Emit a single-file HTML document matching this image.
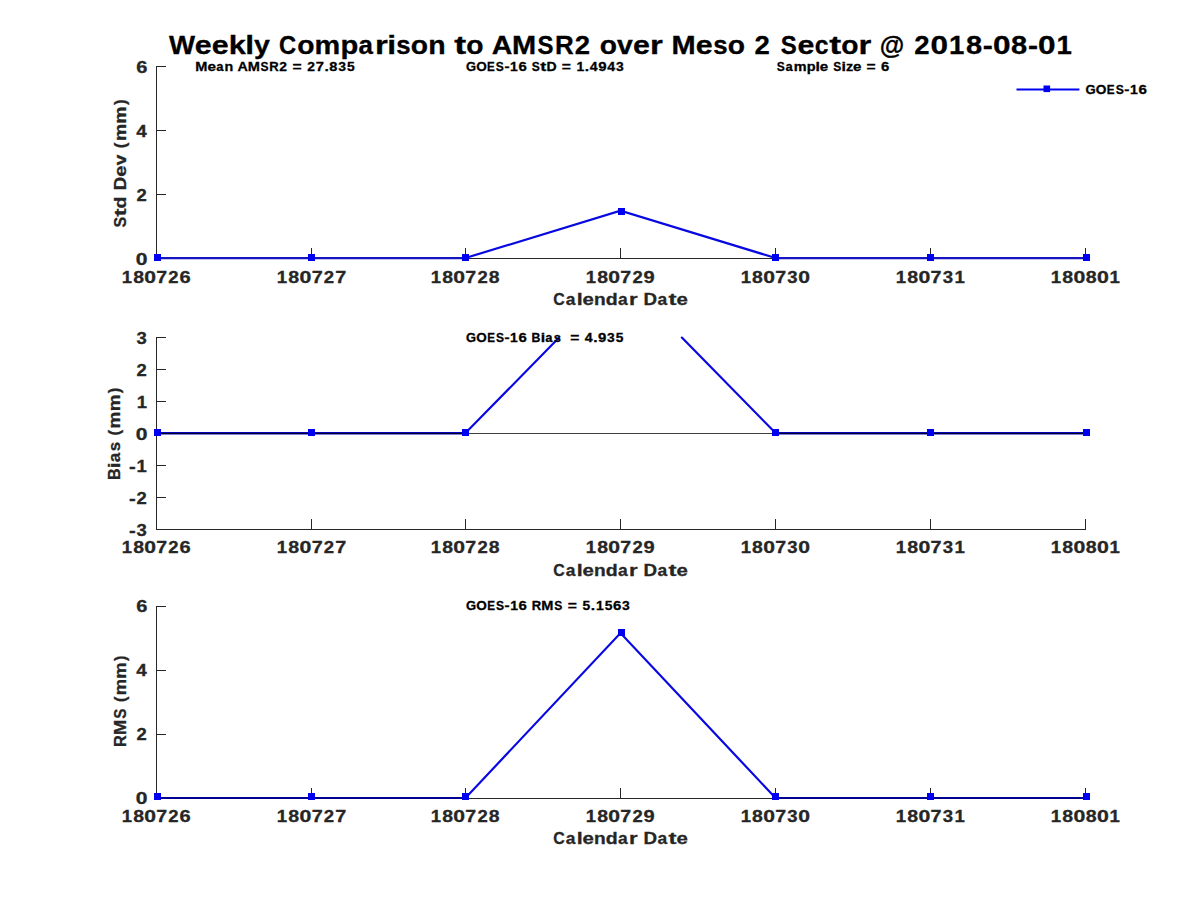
<!DOCTYPE html>
<html><head><meta charset="utf-8"><style>
html,body{margin:0;padding:0;background:#fff;width:1200px;height:900px;overflow:hidden}
svg{display:block}
text{font-family:"Liberation Sans", sans-serif;font-weight:bold}
</style></head><body>
<svg width="1200" height="900" viewBox="0 0 1200 900">
<rect width="1200" height="900" fill="#fff"/>
<path d="M156.5,66V259M156,258.5H1086M156,258.5H166M156,194.5H166M156,130.5H166M156,66.5H166M156.5,258V248M311.5,258V248M465.5,258V248M620.5,258V248M775.5,258V248M930.5,258V248M1085.5,258V248" stroke="#262626" stroke-width="1" fill="none" shape-rendering="crispEdges"/>
<polyline points="156.50,258.00 311.50,258.00 465.50,258.00 620.50,210.70 775.50,258.00 930.50,258.00 1085.50,258.00" stroke="#0808e0" stroke-width="2.2" fill="none"/>
<path d="M156.5,258.2H465.5M775.5,258.2H1085.5" stroke="#1414c0" stroke-width="2.2" fill="none"/>
<rect x="154" y="254" width="7" height="7" fill="#0000f0"/>
<rect x="308" y="254" width="7" height="7" fill="#0000f0"/>
<rect x="462" y="254" width="7" height="7" fill="#0000f0"/>
<rect x="618" y="208" width="7" height="7" fill="#0000f0"/>
<rect x="772" y="254" width="7" height="7" fill="#0000f0"/>
<rect x="927" y="254" width="7" height="7" fill="#0000f0"/>
<rect x="1083" y="254" width="7" height="7" fill="#0000f0"/>
<path d="M156.5,337V530M156,529.5H1086M156,529.5H166M156,497.5H166M156,465.5H166M156,433.5H166M156,401.5H166M156,369.5H166M156,337.5H166M156.5,529V519M311.5,529V519M465.5,529V519M620.5,529V519M775.5,529V519M930.5,529V519M1085.5,529V519" stroke="#262626" stroke-width="1" fill="none" shape-rendering="crispEdges"/>
<polyline points="156.5,433.0 465.5,433.0 559.14,337.6" stroke="#0808e0" stroke-width="2.2" fill="none" stroke-linecap="round"/>
<polyline points="681.86,337.6 775.5,433.0 1085.5,433.0" stroke="#0808e0" stroke-width="2.2" fill="none" stroke-linecap="round"/>
<path d="M156.5,433.3H465.5M775.5,433.3H1085.5" stroke="#0000b0" stroke-width="2.2" fill="none"/>
<path d="M156,433.5H1086" stroke="#000" stroke-width="1" opacity="0.75" shape-rendering="crispEdges"/>
<rect x="154" y="429" width="7" height="7" fill="#0000f0"/>
<rect x="308" y="429" width="7" height="7" fill="#0000f0"/>
<rect x="462" y="429" width="7" height="7" fill="#0000f0"/>
<rect x="772" y="429" width="7" height="7" fill="#0000f0"/>
<rect x="927" y="429" width="7" height="7" fill="#0000f0"/>
<rect x="1083" y="429" width="7" height="7" fill="#0000f0"/>
<path d="M156.5,606V799M156,798.5H1086M156,798.5H166M156,734.5H166M156,670.5H166M156,606.5H166M156.5,798V788M311.5,798V788M465.5,798V788M620.5,798V788M775.5,798V788M930.5,798V788M1085.5,798V788" stroke="#262626" stroke-width="1" fill="none" shape-rendering="crispEdges"/>
<polyline points="156.50,798.00 311.50,798.00 465.50,798.00 620.50,633.00 775.50,798.00 930.50,798.00 1085.50,798.00" stroke="#0808e0" stroke-width="2.2" fill="none"/>
<path d="M156.5,798.0H465.5M775.5,798.0H1085.5" stroke="#000090" stroke-width="2.2" fill="none"/>
<rect x="154" y="793" width="7" height="7" fill="#0000f0"/>
<rect x="308" y="793" width="7" height="7" fill="#0000f0"/>
<rect x="462" y="793" width="7" height="7" fill="#0000f0"/>
<rect x="618" y="629" width="7" height="7" fill="#0000f0"/>
<rect x="772" y="793" width="7" height="7" fill="#0000f0"/>
<rect x="927" y="793" width="7" height="7" fill="#0000f0"/>
<rect x="1083" y="793" width="7" height="7" fill="#0000f0"/>
<path d="M1016.5,89.6H1079.4" stroke="#0000f0" stroke-width="2"/><rect x="1043.5" y="85.5" width="6.6" height="6.6" fill="#0000f0"/>
<text transform="translate(168.90,53.80) scale(1.078,1)" font-size="25.64" fill="#000" stroke="#000" stroke-width="0.3">W</text>
<text transform="translate(194.72,53.80) scale(1.185,1)" font-size="25.64" fill="#000" stroke="#000" stroke-width="0.3">e</text>
<text transform="translate(211.66,53.80) scale(1.185,1)" font-size="25.64" fill="#000" stroke="#000" stroke-width="0.3">e</text>
<text transform="translate(228.65,53.80) scale(1.200,1)" font-size="25.64" fill="#000" stroke="#000" stroke-width="0.3">k</text>
<text transform="translate(245.19,53.80) scale(1.242,1)" font-size="25.64" fill="#000" stroke="#000" stroke-width="0.3">l</text>
<text transform="translate(253.95,53.80) scale(1.116,1)" font-size="25.64" fill="#000" stroke="#000" stroke-width="0.3">y</text>
<text transform="translate(279.11,53.80) scale(0.925,1)" font-size="25.64" fill="#000" stroke="#000" stroke-width="0.3">C</text>
<text transform="translate(297.14,53.80) scale(1.100,1)" font-size="25.64" fill="#000" stroke="#000" stroke-width="0.3">o</text>
<text transform="translate(314.49,53.80) scale(1.127,1)" font-size="25.64" fill="#000" stroke="#000" stroke-width="0.3">m</text>
<text transform="translate(340.53,53.80) scale(1.135,1)" font-size="25.64" fill="#000" stroke="#000" stroke-width="0.3">p</text>
<text transform="translate(358.54,53.80) scale(1.011,1)" font-size="25.64" fill="#000" stroke="#000" stroke-width="0.3">a</text>
<text transform="translate(375.00,53.80) scale(1.285,1)" font-size="25.64" fill="#000" stroke="#000" stroke-width="0.3">r</text>
<text transform="translate(387.27,53.80) scale(1.242,1)" font-size="25.64" fill="#000" stroke="#000" stroke-width="0.3">i</text>
<text transform="translate(396.34,53.80) scale(1.008,1)" font-size="25.64" fill="#000" stroke="#000" stroke-width="0.3">s</text>
<text transform="translate(410.79,53.80) scale(1.100,1)" font-size="25.64" fill="#000" stroke="#000" stroke-width="0.3">o</text>
<text transform="translate(428.20,53.80) scale(1.110,1)" font-size="25.64" fill="#000" stroke="#000" stroke-width="0.3">n</text>
<text transform="translate(454.35,53.80) scale(1.396,1)" font-size="25.64" fill="#000" stroke="#000" stroke-width="0.3">t</text>
<text transform="translate(466.36,53.80) scale(1.100,1)" font-size="25.64" fill="#000" stroke="#000" stroke-width="0.3">o</text>
<text transform="translate(491.64,53.80) scale(1.110,1)" font-size="25.64" fill="#000" stroke="#000" stroke-width="0.3">A</text>
<text transform="translate(511.91,53.80) scale(1.131,1)" font-size="25.64" fill="#000" stroke="#000" stroke-width="0.3">M</text>
<text transform="translate(537.52,53.80) scale(0.936,1)" font-size="25.64" fill="#000" stroke="#000" stroke-width="0.3">S</text>
<text transform="translate(554.95,53.80) scale(1.011,1)" font-size="25.64" fill="#000" stroke="#000" stroke-width="0.3">R</text>
<text transform="translate(574.65,53.80) scale(1.073,1)" font-size="25.64" fill="#000" stroke="#000" stroke-width="0.3">2</text>
<text transform="translate(599.68,53.80) scale(1.100,1)" font-size="25.64" fill="#000" stroke="#000" stroke-width="0.3">o</text>
<text transform="translate(617.12,53.80) scale(1.107,1)" font-size="25.64" fill="#000" stroke="#000" stroke-width="0.3">v</text>
<text transform="translate(633.02,53.80) scale(1.185,1)" font-size="25.64" fill="#000" stroke="#000" stroke-width="0.3">e</text>
<text transform="translate(650.01,53.80) scale(1.285,1)" font-size="25.64" fill="#000" stroke="#000" stroke-width="0.3">r</text>
<text transform="translate(671.44,53.80) scale(1.131,1)" font-size="25.64" fill="#000" stroke="#000" stroke-width="0.3">M</text>
<text transform="translate(695.82,53.80) scale(1.185,1)" font-size="25.64" fill="#000" stroke="#000" stroke-width="0.3">e</text>
<text transform="translate(713.26,53.80) scale(1.008,1)" font-size="25.64" fill="#000" stroke="#000" stroke-width="0.3">s</text>
<text transform="translate(727.71,53.80) scale(1.100,1)" font-size="25.64" fill="#000" stroke="#000" stroke-width="0.3">o</text>
<text transform="translate(754.61,53.80) scale(1.073,1)" font-size="25.64" fill="#000" stroke="#000" stroke-width="0.3">2</text>
<text transform="translate(780.76,53.80) scale(0.936,1)" font-size="25.64" fill="#000" stroke="#000" stroke-width="0.3">S</text>
<text transform="translate(797.53,53.80) scale(1.185,1)" font-size="25.64" fill="#000" stroke="#000" stroke-width="0.3">e</text>
<text transform="translate(814.69,53.80) scale(0.965,1)" font-size="25.64" fill="#000" stroke="#000" stroke-width="0.3">c</text>
<text transform="translate(829.27,53.80) scale(1.396,1)" font-size="25.64" fill="#000" stroke="#000" stroke-width="0.3">t</text>
<text transform="translate(841.29,53.80) scale(1.100,1)" font-size="25.64" fill="#000" stroke="#000" stroke-width="0.3">o</text>
<text transform="translate(858.40,53.80) scale(1.285,1)" font-size="25.64" fill="#000" stroke="#000" stroke-width="0.3">r</text>
<text transform="translate(879.70,53.80) scale(0.979,1)" font-size="25.64" fill="#000" stroke="#000" stroke-width="0.3">@</text>
<text transform="translate(914.17,53.80) scale(1.073,1)" font-size="25.64" fill="#000" stroke="#000" stroke-width="0.3">2</text>
<text transform="translate(930.48,53.80) scale(1.230,1)" font-size="25.64" fill="#000" stroke="#000" stroke-width="0.3">0</text>
<text transform="translate(948.99,53.80) scale(1.077,1)" font-size="25.64" fill="#000" stroke="#000" stroke-width="0.3">1</text>
<text transform="translate(965.88,53.80) scale(1.131,1)" font-size="25.64" fill="#000" stroke="#000" stroke-width="0.3">8</text>
<text transform="translate(982.84,53.80) scale(1.177,1)" font-size="25.64" fill="#000" stroke="#000" stroke-width="0.3">-</text>
<text transform="translate(992.98,53.80) scale(1.230,1)" font-size="25.64" fill="#000" stroke="#000" stroke-width="0.3">0</text>
<text transform="translate(1011.01,53.80) scale(1.131,1)" font-size="25.64" fill="#000" stroke="#000" stroke-width="0.3">8</text>
<text transform="translate(1027.95,53.80) scale(1.177,1)" font-size="25.64" fill="#000" stroke="#000" stroke-width="0.3">-</text>
<text transform="translate(1038.09,53.80) scale(1.230,1)" font-size="25.64" fill="#000" stroke="#000" stroke-width="0.3">0</text>
<text transform="translate(1056.59,53.80) scale(1.077,1)" font-size="25.64" fill="#000" stroke="#000" stroke-width="0.3">1</text>
<text transform="translate(195.18,71.20) scale(1.077,1)" font-size="13.54" fill="#000" stroke="#000" stroke-width="0.3">M</text>
<text transform="translate(207.44,71.20) scale(1.128,1)" font-size="13.54" fill="#000" stroke="#000" stroke-width="0.3">e</text>
<text transform="translate(216.17,71.20) scale(0.963,1)" font-size="13.54" fill="#000" stroke="#000" stroke-width="0.3">a</text>
<text transform="translate(224.59,71.20) scale(1.057,1)" font-size="13.54" fill="#000" stroke="#000" stroke-width="0.3">n</text>
<text transform="translate(237.49,71.20) scale(1.057,1)" font-size="13.54" fill="#000" stroke="#000" stroke-width="0.3">A</text>
<text transform="translate(247.68,71.20) scale(1.077,1)" font-size="13.54" fill="#000" stroke="#000" stroke-width="0.3">M</text>
<text transform="translate(260.55,71.20) scale(0.891,1)" font-size="13.54" fill="#000" stroke="#000" stroke-width="0.3">S</text>
<text transform="translate(269.31,71.20) scale(0.962,1)" font-size="13.54" fill="#000" stroke="#000" stroke-width="0.3">R</text>
<text transform="translate(279.21,71.20) scale(1.021,1)" font-size="13.54" fill="#000" stroke="#000" stroke-width="0.3">2</text>
<text transform="translate(292.49,71.20) scale(1.159,1)" font-size="13.54" fill="#000" stroke="#000" stroke-width="0.3">=</text>
<text transform="translate(307.20,71.20) scale(1.021,1)" font-size="13.54" fill="#000" stroke="#000" stroke-width="0.3">2</text>
<text transform="translate(315.63,71.20) scale(1.087,1)" font-size="13.54" fill="#000" stroke="#000" stroke-width="0.3">7</text>
<text transform="translate(324.38,71.20) scale(1.156,1)" font-size="13.54" fill="#000" stroke="#000" stroke-width="0.3">.</text>
<text transform="translate(329.23,71.20) scale(1.077,1)" font-size="13.54" fill="#000" stroke="#000" stroke-width="0.3">8</text>
<text transform="translate(338.18,71.20) scale(1.026,1)" font-size="13.54" fill="#000" stroke="#000" stroke-width="0.3">3</text>
<text transform="translate(346.94,71.20) scale(1.024,1)" font-size="13.54" fill="#000" stroke="#000" stroke-width="0.3">5</text>
<text transform="translate(465.89,71.20) scale(0.957,1)" font-size="13.54" fill="#000" stroke="#000" stroke-width="0.3">G</text>
<text transform="translate(476.14,71.20) scale(1.000,1)" font-size="13.54" fill="#000" stroke="#000" stroke-width="0.3">O</text>
<text transform="translate(487.10,71.20) scale(0.855,1)" font-size="13.54" fill="#000" stroke="#000" stroke-width="0.3">E</text>
<text transform="translate(495.83,71.20) scale(0.889,1)" font-size="13.54" fill="#000" stroke="#000" stroke-width="0.3">S</text>
<text transform="translate(504.39,71.20) scale(1.119,1)" font-size="13.54" fill="#000" stroke="#000" stroke-width="0.3">-</text>
<text transform="translate(510.04,71.20) scale(1.024,1)" font-size="13.54" fill="#000" stroke="#000" stroke-width="0.3">1</text>
<text transform="translate(518.44,71.20) scale(1.112,1)" font-size="13.54" fill="#000" stroke="#000" stroke-width="0.3">6</text>
<text transform="translate(531.85,71.20) scale(0.889,1)" font-size="13.54" fill="#000" stroke="#000" stroke-width="0.3">S</text>
<text transform="translate(540.25,71.20) scale(1.327,1)" font-size="13.54" fill="#000" stroke="#000" stroke-width="0.3">t</text>
<text transform="translate(546.51,71.20) scale(1.036,1)" font-size="13.54" fill="#000" stroke="#000" stroke-width="0.3">D</text>
<text transform="translate(561.74,71.20) scale(1.156,1)" font-size="13.54" fill="#000" stroke="#000" stroke-width="0.3">=</text>
<text transform="translate(576.46,71.20) scale(1.024,1)" font-size="13.54" fill="#000" stroke="#000" stroke-width="0.3">1</text>
<text transform="translate(584.85,71.20) scale(1.154,1)" font-size="13.54" fill="#000" stroke="#000" stroke-width="0.3">.</text>
<text transform="translate(589.74,71.20) scale(1.046,1)" font-size="13.54" fill="#000" stroke="#000" stroke-width="0.3">4</text>
<text transform="translate(598.23,71.20) scale(1.109,1)" font-size="13.54" fill="#000" stroke="#000" stroke-width="0.3">9</text>
<text transform="translate(607.17,71.20) scale(1.046,1)" font-size="13.54" fill="#000" stroke="#000" stroke-width="0.3">4</text>
<text transform="translate(616.06,71.20) scale(1.024,1)" font-size="13.54" fill="#000" stroke="#000" stroke-width="0.3">3</text>
<text transform="translate(776.85,71.00) scale(0.885,1)" font-size="13.54" fill="#000" stroke="#000" stroke-width="0.3">S</text>
<text transform="translate(785.43,71.00) scale(0.956,1)" font-size="13.54" fill="#000" stroke="#000" stroke-width="0.3">a</text>
<text transform="translate(793.77,71.00) scale(1.065,1)" font-size="13.54" fill="#000" stroke="#000" stroke-width="0.3">m</text>
<text transform="translate(806.76,71.00) scale(1.074,1)" font-size="13.54" fill="#000" stroke="#000" stroke-width="0.3">p</text>
<text transform="translate(815.52,71.00) scale(1.174,1)" font-size="13.54" fill="#000" stroke="#000" stroke-width="0.3">l</text>
<text transform="translate(819.80,71.00) scale(1.120,1)" font-size="13.54" fill="#000" stroke="#000" stroke-width="0.3">e</text>
<text transform="translate(833.21,71.00) scale(0.885,1)" font-size="13.54" fill="#000" stroke="#000" stroke-width="0.3">S</text>
<text transform="translate(841.57,71.00) scale(1.174,1)" font-size="13.54" fill="#000" stroke="#000" stroke-width="0.3">i</text>
<text transform="translate(845.89,71.00) scale(1.064,1)" font-size="13.54" fill="#000" stroke="#000" stroke-width="0.3">z</text>
<text transform="translate(853.10,71.00) scale(1.120,1)" font-size="13.54" fill="#000" stroke="#000" stroke-width="0.3">e</text>
<text transform="translate(866.62,71.00) scale(1.151,1)" font-size="13.54" fill="#000" stroke="#000" stroke-width="0.3">=</text>
<text transform="translate(880.95,71.00) scale(1.106,1)" font-size="13.54" fill="#000" stroke="#000" stroke-width="0.3">6</text>
<text transform="translate(1085.39,93.90) scale(0.958,1)" font-size="13.68" fill="#000" stroke="#000" stroke-width="0.3">G</text>
<text transform="translate(1095.76,93.90) scale(1.001,1)" font-size="13.68" fill="#000" stroke="#000" stroke-width="0.3">O</text>
<text transform="translate(1106.84,93.90) scale(0.856,1)" font-size="13.68" fill="#000" stroke="#000" stroke-width="0.3">E</text>
<text transform="translate(1115.66,93.90) scale(0.890,1)" font-size="13.68" fill="#000" stroke="#000" stroke-width="0.3">S</text>
<text transform="translate(1124.33,93.90) scale(1.119,1)" font-size="13.68" fill="#000" stroke="#000" stroke-width="0.3">-</text>
<text transform="translate(1130.05,93.90) scale(1.024,1)" font-size="13.68" fill="#000" stroke="#000" stroke-width="0.3">1</text>
<text transform="translate(1138.54,93.90) scale(1.112,1)" font-size="13.68" fill="#000" stroke="#000" stroke-width="0.3">6</text>
<text transform="translate(466.08,341.70) scale(0.975,1)" font-size="13.25" fill="#000" stroke="#000" stroke-width="0.3">G</text>
<text transform="translate(476.31,341.70) scale(1.018,1)" font-size="13.25" fill="#000" stroke="#000" stroke-width="0.3">O</text>
<text transform="translate(487.22,341.70) scale(0.871,1)" font-size="13.25" fill="#000" stroke="#000" stroke-width="0.3">E</text>
<text transform="translate(495.93,341.70) scale(0.906,1)" font-size="13.25" fill="#000" stroke="#000" stroke-width="0.3">S</text>
<text transform="translate(504.45,341.70) scale(1.139,1)" font-size="13.25" fill="#000" stroke="#000" stroke-width="0.3">-</text>
<text transform="translate(510.08,341.70) scale(1.042,1)" font-size="13.25" fill="#000" stroke="#000" stroke-width="0.3">1</text>
<text transform="translate(518.46,341.70) scale(1.132,1)" font-size="13.25" fill="#000" stroke="#000" stroke-width="0.3">6</text>
<text transform="translate(531.59,341.70) scale(0.928,1)" font-size="13.25" fill="#000" stroke="#000" stroke-width="0.3">B</text>
<text transform="translate(540.72,341.70) scale(1.202,1)" font-size="13.25" fill="#000" stroke="#000" stroke-width="0.3">i</text>
<text transform="translate(545.23,341.70) scale(0.979,1)" font-size="13.25" fill="#000" stroke="#000" stroke-width="0.3">a</text>
<text transform="translate(553.70,341.70) scale(0.975,1)" font-size="13.25" fill="#000" stroke="#000" stroke-width="0.3">s</text>
<text transform="translate(570.31,341.70) scale(1.177,1)" font-size="13.25" fill="#000" stroke="#000" stroke-width="0.3">=</text>
<text transform="translate(584.78,341.70) scale(1.065,1)" font-size="13.25" fill="#000" stroke="#000" stroke-width="0.3">4</text>
<text transform="translate(593.34,341.70) scale(1.175,1)" font-size="13.25" fill="#000" stroke="#000" stroke-width="0.3">.</text>
<text transform="translate(598.00,341.70) scale(1.130,1)" font-size="13.25" fill="#000" stroke="#000" stroke-width="0.3">9</text>
<text transform="translate(607.08,341.70) scale(1.042,1)" font-size="13.25" fill="#000" stroke="#000" stroke-width="0.3">3</text>
<text transform="translate(615.78,341.70) scale(1.040,1)" font-size="13.25" fill="#000" stroke="#000" stroke-width="0.3">5</text>
<text transform="translate(465.89,610.00) scale(0.959,1)" font-size="13.54" fill="#000" stroke="#000" stroke-width="0.3">G</text>
<text transform="translate(476.17,610.00) scale(1.001,1)" font-size="13.54" fill="#000" stroke="#000" stroke-width="0.3">O</text>
<text transform="translate(487.14,610.00) scale(0.857,1)" font-size="13.54" fill="#000" stroke="#000" stroke-width="0.3">E</text>
<text transform="translate(495.90,610.00) scale(0.891,1)" font-size="13.54" fill="#000" stroke="#000" stroke-width="0.3">S</text>
<text transform="translate(504.46,610.00) scale(1.120,1)" font-size="13.54" fill="#000" stroke="#000" stroke-width="0.3">-</text>
<text transform="translate(510.13,610.00) scale(1.025,1)" font-size="13.54" fill="#000" stroke="#000" stroke-width="0.3">1</text>
<text transform="translate(518.54,610.00) scale(1.113,1)" font-size="13.54" fill="#000" stroke="#000" stroke-width="0.3">6</text>
<text transform="translate(531.70,610.00) scale(0.962,1)" font-size="13.54" fill="#000" stroke="#000" stroke-width="0.3">R</text>
<text transform="translate(541.27,610.00) scale(1.076,1)" font-size="13.54" fill="#000" stroke="#000" stroke-width="0.3">M</text>
<text transform="translate(554.13,610.00) scale(0.891,1)" font-size="13.54" fill="#000" stroke="#000" stroke-width="0.3">S</text>
<text transform="translate(567.66,610.00) scale(1.158,1)" font-size="13.54" fill="#000" stroke="#000" stroke-width="0.3">=</text>
<text transform="translate(582.42,610.00) scale(1.023,1)" font-size="13.54" fill="#000" stroke="#000" stroke-width="0.3">5</text>
<text transform="translate(590.82,610.00) scale(1.156,1)" font-size="13.54" fill="#000" stroke="#000" stroke-width="0.3">.</text>
<text transform="translate(595.91,610.00) scale(1.025,1)" font-size="13.54" fill="#000" stroke="#000" stroke-width="0.3">1</text>
<text transform="translate(604.65,610.00) scale(1.023,1)" font-size="13.54" fill="#000" stroke="#000" stroke-width="0.3">5</text>
<text transform="translate(613.06,610.00) scale(1.113,1)" font-size="13.54" fill="#000" stroke="#000" stroke-width="0.3">6</text>
<text transform="translate(622.10,610.00) scale(1.025,1)" font-size="13.54" fill="#000" stroke="#000" stroke-width="0.3">3</text>
<text transform="translate(553.31,304.70) scale(0.937,1)" font-size="17.00" fill="#262626" stroke="#262626" stroke-width="0.3">C</text>
<text transform="translate(565.65,304.70) scale(1.025,1)" font-size="17.00" fill="#262626" stroke="#262626" stroke-width="0.3">a</text>
<text transform="translate(576.68,304.70) scale(1.258,1)" font-size="17.00" fill="#262626" stroke="#262626" stroke-width="0.3">l</text>
<text transform="translate(582.43,304.70) scale(1.200,1)" font-size="17.00" fill="#262626" stroke="#262626" stroke-width="0.3">e</text>
<text transform="translate(594.04,304.70) scale(1.124,1)" font-size="17.00" fill="#262626" stroke="#262626" stroke-width="0.3">n</text>
<text transform="translate(605.79,304.70) scale(1.150,1)" font-size="17.00" fill="#262626" stroke="#262626" stroke-width="0.3">d</text>
<text transform="translate(618.06,304.70) scale(1.025,1)" font-size="17.00" fill="#262626" stroke="#262626" stroke-width="0.3">a</text>
<text transform="translate(629.12,304.70) scale(1.302,1)" font-size="17.00" fill="#262626" stroke="#262626" stroke-width="0.3">r</text>
<text transform="translate(643.58,304.70) scale(1.105,1)" font-size="17.00" fill="#262626" stroke="#262626" stroke-width="0.3">D</text>
<text transform="translate(657.43,304.70) scale(1.025,1)" font-size="17.00" fill="#262626" stroke="#262626" stroke-width="0.3">a</text>
<text transform="translate(668.47,304.70) scale(1.414,1)" font-size="17.00" fill="#262626" stroke="#262626" stroke-width="0.3">t</text>
<text transform="translate(676.50,304.70) scale(1.200,1)" font-size="17.00" fill="#262626" stroke="#262626" stroke-width="0.3">e</text>
<text transform="translate(553.31,575.70) scale(0.937,1)" font-size="17.00" fill="#262626" stroke="#262626" stroke-width="0.3">C</text>
<text transform="translate(565.65,575.70) scale(1.025,1)" font-size="17.00" fill="#262626" stroke="#262626" stroke-width="0.3">a</text>
<text transform="translate(576.68,575.70) scale(1.258,1)" font-size="17.00" fill="#262626" stroke="#262626" stroke-width="0.3">l</text>
<text transform="translate(582.43,575.70) scale(1.200,1)" font-size="17.00" fill="#262626" stroke="#262626" stroke-width="0.3">e</text>
<text transform="translate(594.04,575.70) scale(1.124,1)" font-size="17.00" fill="#262626" stroke="#262626" stroke-width="0.3">n</text>
<text transform="translate(605.79,575.70) scale(1.150,1)" font-size="17.00" fill="#262626" stroke="#262626" stroke-width="0.3">d</text>
<text transform="translate(618.06,575.70) scale(1.025,1)" font-size="17.00" fill="#262626" stroke="#262626" stroke-width="0.3">a</text>
<text transform="translate(629.12,575.70) scale(1.302,1)" font-size="17.00" fill="#262626" stroke="#262626" stroke-width="0.3">r</text>
<text transform="translate(643.58,575.70) scale(1.105,1)" font-size="17.00" fill="#262626" stroke="#262626" stroke-width="0.3">D</text>
<text transform="translate(657.43,575.70) scale(1.025,1)" font-size="17.00" fill="#262626" stroke="#262626" stroke-width="0.3">a</text>
<text transform="translate(668.47,575.70) scale(1.414,1)" font-size="17.00" fill="#262626" stroke="#262626" stroke-width="0.3">t</text>
<text transform="translate(676.50,575.70) scale(1.200,1)" font-size="17.00" fill="#262626" stroke="#262626" stroke-width="0.3">e</text>
<text transform="translate(553.31,844.40) scale(0.937,1)" font-size="17.00" fill="#262626" stroke="#262626" stroke-width="0.3">C</text>
<text transform="translate(565.65,844.40) scale(1.025,1)" font-size="17.00" fill="#262626" stroke="#262626" stroke-width="0.3">a</text>
<text transform="translate(576.68,844.40) scale(1.258,1)" font-size="17.00" fill="#262626" stroke="#262626" stroke-width="0.3">l</text>
<text transform="translate(582.43,844.40) scale(1.200,1)" font-size="17.00" fill="#262626" stroke="#262626" stroke-width="0.3">e</text>
<text transform="translate(594.04,844.40) scale(1.124,1)" font-size="17.00" fill="#262626" stroke="#262626" stroke-width="0.3">n</text>
<text transform="translate(605.79,844.40) scale(1.150,1)" font-size="17.00" fill="#262626" stroke="#262626" stroke-width="0.3">d</text>
<text transform="translate(618.06,844.40) scale(1.025,1)" font-size="17.00" fill="#262626" stroke="#262626" stroke-width="0.3">a</text>
<text transform="translate(629.12,844.40) scale(1.302,1)" font-size="17.00" fill="#262626" stroke="#262626" stroke-width="0.3">r</text>
<text transform="translate(643.58,844.40) scale(1.105,1)" font-size="17.00" fill="#262626" stroke="#262626" stroke-width="0.3">D</text>
<text transform="translate(657.43,844.40) scale(1.025,1)" font-size="17.00" fill="#262626" stroke="#262626" stroke-width="0.3">a</text>
<text transform="translate(668.47,844.40) scale(1.414,1)" font-size="17.00" fill="#262626" stroke="#262626" stroke-width="0.3">t</text>
<text transform="translate(676.50,844.40) scale(1.200,1)" font-size="17.00" fill="#262626" stroke="#262626" stroke-width="0.3">e</text>
<text transform="translate(125.70,227.61) rotate(-90) scale(0.943,1)" font-size="17.00" fill="#262626" stroke="#262626" stroke-width="0.3">S</text>
<text transform="translate(125.70,216.41) rotate(-90) scale(1.406,1)" font-size="17.00" fill="#262626" stroke="#262626" stroke-width="0.3">t</text>
<text transform="translate(125.70,208.41) rotate(-90) scale(1.144,1)" font-size="17.00" fill="#262626" stroke="#262626" stroke-width="0.3">d</text>
<text transform="translate(125.70,190.33) rotate(-90) scale(1.098,1)" font-size="17.00" fill="#262626" stroke="#262626" stroke-width="0.3">D</text>
<text transform="translate(125.70,176.83) rotate(-90) scale(1.193,1)" font-size="17.00" fill="#262626" stroke="#262626" stroke-width="0.3">e</text>
<text transform="translate(125.70,165.26) rotate(-90) scale(1.115,1)" font-size="17.00" fill="#262626" stroke="#262626" stroke-width="0.3">v</text>
<text transform="translate(125.70,148.18) rotate(-90) scale(1.012,1)" font-size="17.00" fill="#262626" stroke="#262626" stroke-width="0.3">(</text>
<text transform="translate(125.70,141.01) rotate(-90) scale(1.135,1)" font-size="17.00" fill="#262626" stroke="#262626" stroke-width="0.3">m</text>
<text transform="translate(125.70,123.63) rotate(-90) scale(1.135,1)" font-size="17.00" fill="#262626" stroke="#262626" stroke-width="0.3">m</text>
<text transform="translate(125.70,105.04) rotate(-90) scale(1.012,1)" font-size="17.00" fill="#262626" stroke="#262626" stroke-width="0.3">)</text>
<text transform="translate(119.80,480.09) rotate(-90) scale(0.948,1)" font-size="17.00" fill="#262626" stroke="#262626" stroke-width="0.3">B</text>
<text transform="translate(119.80,468.14) rotate(-90) scale(1.227,1)" font-size="17.00" fill="#262626" stroke="#262626" stroke-width="0.3">i</text>
<text transform="translate(119.80,462.24) rotate(-90) scale(0.999,1)" font-size="17.00" fill="#262626" stroke="#262626" stroke-width="0.3">a</text>
<text transform="translate(119.80,451.17) rotate(-90) scale(0.995,1)" font-size="17.00" fill="#262626" stroke="#262626" stroke-width="0.3">s</text>
<text transform="translate(119.80,435.43) rotate(-90) scale(0.993,1)" font-size="17.00" fill="#262626" stroke="#262626" stroke-width="0.3">(</text>
<text transform="translate(119.80,428.40) rotate(-90) scale(1.113,1)" font-size="17.00" fill="#262626" stroke="#262626" stroke-width="0.3">m</text>
<text transform="translate(119.80,411.35) rotate(-90) scale(1.113,1)" font-size="17.00" fill="#262626" stroke="#262626" stroke-width="0.3">m</text>
<text transform="translate(119.80,393.14) rotate(-90) scale(0.993,1)" font-size="17.00" fill="#262626" stroke="#262626" stroke-width="0.3">)</text>
<text transform="translate(125.50,747.01) rotate(-90) scale(0.966,1)" font-size="17.00" fill="#262626" stroke="#262626" stroke-width="0.3">R</text>
<text transform="translate(125.50,734.97) rotate(-90) scale(1.081,1)" font-size="17.00" fill="#262626" stroke="#262626" stroke-width="0.3">M</text>
<text transform="translate(125.50,718.75) rotate(-90) scale(0.895,1)" font-size="17.00" fill="#262626" stroke="#262626" stroke-width="0.3">S</text>
<text transform="translate(125.50,701.99) rotate(-90) scale(0.961,1)" font-size="17.00" fill="#262626" stroke="#262626" stroke-width="0.3">(</text>
<text transform="translate(125.50,695.20) rotate(-90) scale(1.077,1)" font-size="17.00" fill="#262626" stroke="#262626" stroke-width="0.3">m</text>
<text transform="translate(125.50,678.71) rotate(-90) scale(1.077,1)" font-size="17.00" fill="#262626" stroke="#262626" stroke-width="0.3">m</text>
<text transform="translate(125.50,661.08) rotate(-90) scale(0.961,1)" font-size="17.00" fill="#262626" stroke="#262626" stroke-width="0.3">)</text>
<text transform="translate(121.81,282.70) scale(1.078,1)" font-size="17.16" fill="#262626" stroke="#262626" stroke-width="0.3">1</text>
<text transform="translate(133.13,282.70) scale(1.132,1)" font-size="17.16" fill="#262626" stroke="#262626" stroke-width="0.3">8</text>
<text transform="translate(144.33,282.70) scale(1.231,1)" font-size="17.16" fill="#262626" stroke="#262626" stroke-width="0.3">0</text>
<text transform="translate(156.29,282.70) scale(1.142,1)" font-size="17.16" fill="#262626" stroke="#262626" stroke-width="0.3">7</text>
<text transform="translate(168.32,282.70) scale(1.074,1)" font-size="17.16" fill="#262626" stroke="#262626" stroke-width="0.3">2</text>
<text transform="translate(179.58,282.70) scale(1.171,1)" font-size="17.16" fill="#262626" stroke="#262626" stroke-width="0.3">6</text>
<text transform="translate(276.81,282.70) scale(1.090,1)" font-size="17.16" fill="#262626" stroke="#262626" stroke-width="0.3">1</text>
<text transform="translate(288.24,282.70) scale(1.144,1)" font-size="17.16" fill="#262626" stroke="#262626" stroke-width="0.3">8</text>
<text transform="translate(299.56,282.70) scale(1.244,1)" font-size="17.16" fill="#262626" stroke="#262626" stroke-width="0.3">0</text>
<text transform="translate(311.64,282.70) scale(1.155,1)" font-size="17.16" fill="#262626" stroke="#262626" stroke-width="0.3">7</text>
<text transform="translate(323.82,282.70) scale(1.085,1)" font-size="17.16" fill="#262626" stroke="#262626" stroke-width="0.3">2</text>
<text transform="translate(335.18,282.70) scale(1.155,1)" font-size="17.16" fill="#262626" stroke="#262626" stroke-width="0.3">7</text>
<text transform="translate(430.81,282.70) scale(1.078,1)" font-size="17.16" fill="#262626" stroke="#262626" stroke-width="0.3">1</text>
<text transform="translate(442.14,282.70) scale(1.132,1)" font-size="17.16" fill="#262626" stroke="#262626" stroke-width="0.3">8</text>
<text transform="translate(453.35,282.70) scale(1.232,1)" font-size="17.16" fill="#262626" stroke="#262626" stroke-width="0.3">0</text>
<text transform="translate(465.32,282.70) scale(1.143,1)" font-size="17.16" fill="#262626" stroke="#262626" stroke-width="0.3">7</text>
<text transform="translate(477.38,282.70) scale(1.074,1)" font-size="17.16" fill="#262626" stroke="#262626" stroke-width="0.3">2</text>
<text transform="translate(488.74,282.70) scale(1.132,1)" font-size="17.16" fill="#262626" stroke="#262626" stroke-width="0.3">8</text>
<text transform="translate(585.81,282.70) scale(1.078,1)" font-size="17.16" fill="#262626" stroke="#262626" stroke-width="0.3">1</text>
<text transform="translate(597.14,282.70) scale(1.132,1)" font-size="17.16" fill="#262626" stroke="#262626" stroke-width="0.3">8</text>
<text transform="translate(608.35,282.70) scale(1.232,1)" font-size="17.16" fill="#262626" stroke="#262626" stroke-width="0.3">0</text>
<text transform="translate(620.32,282.70) scale(1.143,1)" font-size="17.16" fill="#262626" stroke="#262626" stroke-width="0.3">7</text>
<text transform="translate(632.38,282.70) scale(1.074,1)" font-size="17.16" fill="#262626" stroke="#262626" stroke-width="0.3">2</text>
<text transform="translate(643.51,282.70) scale(1.169,1)" font-size="17.16" fill="#262626" stroke="#262626" stroke-width="0.3">9</text>
<text transform="translate(740.82,282.70) scale(1.078,1)" font-size="17.16" fill="#262626" stroke="#262626" stroke-width="0.3">1</text>
<text transform="translate(752.12,282.70) scale(1.132,1)" font-size="17.16" fill="#262626" stroke="#262626" stroke-width="0.3">8</text>
<text transform="translate(763.33,282.70) scale(1.231,1)" font-size="17.16" fill="#262626" stroke="#262626" stroke-width="0.3">0</text>
<text transform="translate(775.28,282.70) scale(1.142,1)" font-size="17.16" fill="#262626" stroke="#262626" stroke-width="0.3">7</text>
<text transform="translate(787.33,282.70) scale(1.078,1)" font-size="17.16" fill="#262626" stroke="#262626" stroke-width="0.3">3</text>
<text transform="translate(798.24,282.70) scale(1.231,1)" font-size="17.16" fill="#262626" stroke="#262626" stroke-width="0.3">0</text>
<text transform="translate(895.81,282.70) scale(1.087,1)" font-size="17.16" fill="#262626" stroke="#262626" stroke-width="0.3">1</text>
<text transform="translate(907.23,282.70) scale(1.142,1)" font-size="17.16" fill="#262626" stroke="#262626" stroke-width="0.3">8</text>
<text transform="translate(918.52,282.70) scale(1.242,1)" font-size="17.16" fill="#262626" stroke="#262626" stroke-width="0.3">0</text>
<text transform="translate(930.58,282.70) scale(1.152,1)" font-size="17.16" fill="#262626" stroke="#262626" stroke-width="0.3">7</text>
<text transform="translate(942.74,282.70) scale(1.088,1)" font-size="17.16" fill="#262626" stroke="#262626" stroke-width="0.3">3</text>
<text transform="translate(954.51,282.70) scale(1.087,1)" font-size="17.16" fill="#262626" stroke="#262626" stroke-width="0.3">1</text>
<text transform="translate(1050.81,282.70) scale(1.087,1)" font-size="17.16" fill="#262626" stroke="#262626" stroke-width="0.3">1</text>
<text transform="translate(1062.23,282.70) scale(1.142,1)" font-size="17.16" fill="#262626" stroke="#262626" stroke-width="0.3">8</text>
<text transform="translate(1073.52,282.70) scale(1.242,1)" font-size="17.16" fill="#262626" stroke="#262626" stroke-width="0.3">0</text>
<text transform="translate(1085.71,282.70) scale(1.142,1)" font-size="17.16" fill="#262626" stroke="#262626" stroke-width="0.3">8</text>
<text transform="translate(1097.00,282.70) scale(1.242,1)" font-size="17.16" fill="#262626" stroke="#262626" stroke-width="0.3">0</text>
<text transform="translate(1109.51,282.70) scale(1.087,1)" font-size="17.16" fill="#262626" stroke="#262626" stroke-width="0.3">1</text>
<text transform="translate(121.81,553.00) scale(1.078,1)" font-size="17.16" fill="#262626" stroke="#262626" stroke-width="0.3">1</text>
<text transform="translate(133.13,553.00) scale(1.132,1)" font-size="17.16" fill="#262626" stroke="#262626" stroke-width="0.3">8</text>
<text transform="translate(144.33,553.00) scale(1.231,1)" font-size="17.16" fill="#262626" stroke="#262626" stroke-width="0.3">0</text>
<text transform="translate(156.29,553.00) scale(1.142,1)" font-size="17.16" fill="#262626" stroke="#262626" stroke-width="0.3">7</text>
<text transform="translate(168.32,553.00) scale(1.074,1)" font-size="17.16" fill="#262626" stroke="#262626" stroke-width="0.3">2</text>
<text transform="translate(179.58,553.00) scale(1.171,1)" font-size="17.16" fill="#262626" stroke="#262626" stroke-width="0.3">6</text>
<text transform="translate(276.81,553.00) scale(1.090,1)" font-size="17.16" fill="#262626" stroke="#262626" stroke-width="0.3">1</text>
<text transform="translate(288.24,553.00) scale(1.144,1)" font-size="17.16" fill="#262626" stroke="#262626" stroke-width="0.3">8</text>
<text transform="translate(299.56,553.00) scale(1.244,1)" font-size="17.16" fill="#262626" stroke="#262626" stroke-width="0.3">0</text>
<text transform="translate(311.64,553.00) scale(1.155,1)" font-size="17.16" fill="#262626" stroke="#262626" stroke-width="0.3">7</text>
<text transform="translate(323.82,553.00) scale(1.085,1)" font-size="17.16" fill="#262626" stroke="#262626" stroke-width="0.3">2</text>
<text transform="translate(335.18,553.00) scale(1.155,1)" font-size="17.16" fill="#262626" stroke="#262626" stroke-width="0.3">7</text>
<text transform="translate(430.81,553.00) scale(1.078,1)" font-size="17.16" fill="#262626" stroke="#262626" stroke-width="0.3">1</text>
<text transform="translate(442.14,553.00) scale(1.132,1)" font-size="17.16" fill="#262626" stroke="#262626" stroke-width="0.3">8</text>
<text transform="translate(453.35,553.00) scale(1.232,1)" font-size="17.16" fill="#262626" stroke="#262626" stroke-width="0.3">0</text>
<text transform="translate(465.32,553.00) scale(1.143,1)" font-size="17.16" fill="#262626" stroke="#262626" stroke-width="0.3">7</text>
<text transform="translate(477.38,553.00) scale(1.074,1)" font-size="17.16" fill="#262626" stroke="#262626" stroke-width="0.3">2</text>
<text transform="translate(488.74,553.00) scale(1.132,1)" font-size="17.16" fill="#262626" stroke="#262626" stroke-width="0.3">8</text>
<text transform="translate(585.81,553.00) scale(1.078,1)" font-size="17.16" fill="#262626" stroke="#262626" stroke-width="0.3">1</text>
<text transform="translate(597.14,553.00) scale(1.132,1)" font-size="17.16" fill="#262626" stroke="#262626" stroke-width="0.3">8</text>
<text transform="translate(608.35,553.00) scale(1.232,1)" font-size="17.16" fill="#262626" stroke="#262626" stroke-width="0.3">0</text>
<text transform="translate(620.32,553.00) scale(1.143,1)" font-size="17.16" fill="#262626" stroke="#262626" stroke-width="0.3">7</text>
<text transform="translate(632.38,553.00) scale(1.074,1)" font-size="17.16" fill="#262626" stroke="#262626" stroke-width="0.3">2</text>
<text transform="translate(643.51,553.00) scale(1.169,1)" font-size="17.16" fill="#262626" stroke="#262626" stroke-width="0.3">9</text>
<text transform="translate(740.82,553.00) scale(1.078,1)" font-size="17.16" fill="#262626" stroke="#262626" stroke-width="0.3">1</text>
<text transform="translate(752.12,553.00) scale(1.132,1)" font-size="17.16" fill="#262626" stroke="#262626" stroke-width="0.3">8</text>
<text transform="translate(763.33,553.00) scale(1.231,1)" font-size="17.16" fill="#262626" stroke="#262626" stroke-width="0.3">0</text>
<text transform="translate(775.28,553.00) scale(1.142,1)" font-size="17.16" fill="#262626" stroke="#262626" stroke-width="0.3">7</text>
<text transform="translate(787.33,553.00) scale(1.078,1)" font-size="17.16" fill="#262626" stroke="#262626" stroke-width="0.3">3</text>
<text transform="translate(798.24,553.00) scale(1.231,1)" font-size="17.16" fill="#262626" stroke="#262626" stroke-width="0.3">0</text>
<text transform="translate(895.81,553.00) scale(1.087,1)" font-size="17.16" fill="#262626" stroke="#262626" stroke-width="0.3">1</text>
<text transform="translate(907.23,553.00) scale(1.142,1)" font-size="17.16" fill="#262626" stroke="#262626" stroke-width="0.3">8</text>
<text transform="translate(918.52,553.00) scale(1.242,1)" font-size="17.16" fill="#262626" stroke="#262626" stroke-width="0.3">0</text>
<text transform="translate(930.58,553.00) scale(1.152,1)" font-size="17.16" fill="#262626" stroke="#262626" stroke-width="0.3">7</text>
<text transform="translate(942.74,553.00) scale(1.088,1)" font-size="17.16" fill="#262626" stroke="#262626" stroke-width="0.3">3</text>
<text transform="translate(954.51,553.00) scale(1.087,1)" font-size="17.16" fill="#262626" stroke="#262626" stroke-width="0.3">1</text>
<text transform="translate(1050.81,553.00) scale(1.087,1)" font-size="17.16" fill="#262626" stroke="#262626" stroke-width="0.3">1</text>
<text transform="translate(1062.23,553.00) scale(1.142,1)" font-size="17.16" fill="#262626" stroke="#262626" stroke-width="0.3">8</text>
<text transform="translate(1073.52,553.00) scale(1.242,1)" font-size="17.16" fill="#262626" stroke="#262626" stroke-width="0.3">0</text>
<text transform="translate(1085.71,553.00) scale(1.142,1)" font-size="17.16" fill="#262626" stroke="#262626" stroke-width="0.3">8</text>
<text transform="translate(1097.00,553.00) scale(1.242,1)" font-size="17.16" fill="#262626" stroke="#262626" stroke-width="0.3">0</text>
<text transform="translate(1109.51,553.00) scale(1.087,1)" font-size="17.16" fill="#262626" stroke="#262626" stroke-width="0.3">1</text>
<text transform="translate(121.81,821.70) scale(1.078,1)" font-size="17.16" fill="#262626" stroke="#262626" stroke-width="0.3">1</text>
<text transform="translate(133.13,821.70) scale(1.132,1)" font-size="17.16" fill="#262626" stroke="#262626" stroke-width="0.3">8</text>
<text transform="translate(144.33,821.70) scale(1.231,1)" font-size="17.16" fill="#262626" stroke="#262626" stroke-width="0.3">0</text>
<text transform="translate(156.29,821.70) scale(1.142,1)" font-size="17.16" fill="#262626" stroke="#262626" stroke-width="0.3">7</text>
<text transform="translate(168.32,821.70) scale(1.074,1)" font-size="17.16" fill="#262626" stroke="#262626" stroke-width="0.3">2</text>
<text transform="translate(179.58,821.70) scale(1.171,1)" font-size="17.16" fill="#262626" stroke="#262626" stroke-width="0.3">6</text>
<text transform="translate(276.81,821.70) scale(1.090,1)" font-size="17.16" fill="#262626" stroke="#262626" stroke-width="0.3">1</text>
<text transform="translate(288.24,821.70) scale(1.144,1)" font-size="17.16" fill="#262626" stroke="#262626" stroke-width="0.3">8</text>
<text transform="translate(299.56,821.70) scale(1.244,1)" font-size="17.16" fill="#262626" stroke="#262626" stroke-width="0.3">0</text>
<text transform="translate(311.64,821.70) scale(1.155,1)" font-size="17.16" fill="#262626" stroke="#262626" stroke-width="0.3">7</text>
<text transform="translate(323.82,821.70) scale(1.085,1)" font-size="17.16" fill="#262626" stroke="#262626" stroke-width="0.3">2</text>
<text transform="translate(335.18,821.70) scale(1.155,1)" font-size="17.16" fill="#262626" stroke="#262626" stroke-width="0.3">7</text>
<text transform="translate(430.81,821.70) scale(1.078,1)" font-size="17.16" fill="#262626" stroke="#262626" stroke-width="0.3">1</text>
<text transform="translate(442.14,821.70) scale(1.132,1)" font-size="17.16" fill="#262626" stroke="#262626" stroke-width="0.3">8</text>
<text transform="translate(453.35,821.70) scale(1.232,1)" font-size="17.16" fill="#262626" stroke="#262626" stroke-width="0.3">0</text>
<text transform="translate(465.32,821.70) scale(1.143,1)" font-size="17.16" fill="#262626" stroke="#262626" stroke-width="0.3">7</text>
<text transform="translate(477.38,821.70) scale(1.074,1)" font-size="17.16" fill="#262626" stroke="#262626" stroke-width="0.3">2</text>
<text transform="translate(488.74,821.70) scale(1.132,1)" font-size="17.16" fill="#262626" stroke="#262626" stroke-width="0.3">8</text>
<text transform="translate(585.81,821.70) scale(1.078,1)" font-size="17.16" fill="#262626" stroke="#262626" stroke-width="0.3">1</text>
<text transform="translate(597.14,821.70) scale(1.132,1)" font-size="17.16" fill="#262626" stroke="#262626" stroke-width="0.3">8</text>
<text transform="translate(608.35,821.70) scale(1.232,1)" font-size="17.16" fill="#262626" stroke="#262626" stroke-width="0.3">0</text>
<text transform="translate(620.32,821.70) scale(1.143,1)" font-size="17.16" fill="#262626" stroke="#262626" stroke-width="0.3">7</text>
<text transform="translate(632.38,821.70) scale(1.074,1)" font-size="17.16" fill="#262626" stroke="#262626" stroke-width="0.3">2</text>
<text transform="translate(643.51,821.70) scale(1.169,1)" font-size="17.16" fill="#262626" stroke="#262626" stroke-width="0.3">9</text>
<text transform="translate(740.82,821.70) scale(1.078,1)" font-size="17.16" fill="#262626" stroke="#262626" stroke-width="0.3">1</text>
<text transform="translate(752.12,821.70) scale(1.132,1)" font-size="17.16" fill="#262626" stroke="#262626" stroke-width="0.3">8</text>
<text transform="translate(763.33,821.70) scale(1.231,1)" font-size="17.16" fill="#262626" stroke="#262626" stroke-width="0.3">0</text>
<text transform="translate(775.28,821.70) scale(1.142,1)" font-size="17.16" fill="#262626" stroke="#262626" stroke-width="0.3">7</text>
<text transform="translate(787.33,821.70) scale(1.078,1)" font-size="17.16" fill="#262626" stroke="#262626" stroke-width="0.3">3</text>
<text transform="translate(798.24,821.70) scale(1.231,1)" font-size="17.16" fill="#262626" stroke="#262626" stroke-width="0.3">0</text>
<text transform="translate(895.81,821.70) scale(1.087,1)" font-size="17.16" fill="#262626" stroke="#262626" stroke-width="0.3">1</text>
<text transform="translate(907.23,821.70) scale(1.142,1)" font-size="17.16" fill="#262626" stroke="#262626" stroke-width="0.3">8</text>
<text transform="translate(918.52,821.70) scale(1.242,1)" font-size="17.16" fill="#262626" stroke="#262626" stroke-width="0.3">0</text>
<text transform="translate(930.58,821.70) scale(1.152,1)" font-size="17.16" fill="#262626" stroke="#262626" stroke-width="0.3">7</text>
<text transform="translate(942.74,821.70) scale(1.088,1)" font-size="17.16" fill="#262626" stroke="#262626" stroke-width="0.3">3</text>
<text transform="translate(954.51,821.70) scale(1.087,1)" font-size="17.16" fill="#262626" stroke="#262626" stroke-width="0.3">1</text>
<text transform="translate(1050.81,821.70) scale(1.087,1)" font-size="17.16" fill="#262626" stroke="#262626" stroke-width="0.3">1</text>
<text transform="translate(1062.23,821.70) scale(1.142,1)" font-size="17.16" fill="#262626" stroke="#262626" stroke-width="0.3">8</text>
<text transform="translate(1073.52,821.70) scale(1.242,1)" font-size="17.16" fill="#262626" stroke="#262626" stroke-width="0.3">0</text>
<text transform="translate(1085.71,821.70) scale(1.142,1)" font-size="17.16" fill="#262626" stroke="#262626" stroke-width="0.3">8</text>
<text transform="translate(1097.00,821.70) scale(1.242,1)" font-size="17.16" fill="#262626" stroke="#262626" stroke-width="0.3">0</text>
<text transform="translate(1109.51,821.70) scale(1.087,1)" font-size="17.16" fill="#262626" stroke="#262626" stroke-width="0.3">1</text>
<text transform="translate(136.20,72.90) scale(1.171,1)" font-size="17.16" fill="#262626" stroke="#262626" stroke-width="0.3">6</text>
<text transform="translate(136.37,136.90) scale(1.102,1)" font-size="17.16" fill="#262626" stroke="#262626" stroke-width="0.3">4</text>
<text transform="translate(136.59,200.90) scale(1.074,1)" font-size="17.16" fill="#262626" stroke="#262626" stroke-width="0.3">2</text>
<text transform="translate(135.87,264.90) scale(1.231,1)" font-size="17.16" fill="#262626" stroke="#262626" stroke-width="0.3">0</text>
<text transform="translate(136.60,343.90) scale(1.078,1)" font-size="17.16" fill="#262626" stroke="#262626" stroke-width="0.3">3</text>
<text transform="translate(136.59,375.90) scale(1.074,1)" font-size="17.16" fill="#262626" stroke="#262626" stroke-width="0.3">2</text>
<text transform="translate(136.63,407.90) scale(1.078,1)" font-size="17.16" fill="#262626" stroke="#262626" stroke-width="0.3">1</text>
<text transform="translate(135.87,439.90) scale(1.231,1)" font-size="17.16" fill="#262626" stroke="#262626" stroke-width="0.3">0</text>
<text transform="translate(129.07,471.90) scale(1.178,1)" font-size="17.16" fill="#262626" stroke="#262626" stroke-width="0.3">-</text>
<text transform="translate(136.62,471.90) scale(1.078,1)" font-size="17.16" fill="#262626" stroke="#262626" stroke-width="0.3">1</text>
<text transform="translate(129.07,503.90) scale(1.178,1)" font-size="17.16" fill="#262626" stroke="#262626" stroke-width="0.3">-</text>
<text transform="translate(136.58,503.90) scale(1.074,1)" font-size="17.16" fill="#262626" stroke="#262626" stroke-width="0.3">2</text>
<text transform="translate(129.07,535.90) scale(1.178,1)" font-size="17.16" fill="#262626" stroke="#262626" stroke-width="0.3">-</text>
<text transform="translate(136.59,535.90) scale(1.078,1)" font-size="17.16" fill="#262626" stroke="#262626" stroke-width="0.3">3</text>
<text transform="translate(136.20,612.20) scale(1.171,1)" font-size="17.16" fill="#262626" stroke="#262626" stroke-width="0.3">6</text>
<text transform="translate(136.37,676.20) scale(1.102,1)" font-size="17.16" fill="#262626" stroke="#262626" stroke-width="0.3">4</text>
<text transform="translate(136.59,740.20) scale(1.074,1)" font-size="17.16" fill="#262626" stroke="#262626" stroke-width="0.3">2</text>
<text transform="translate(135.87,804.20) scale(1.231,1)" font-size="17.16" fill="#262626" stroke="#262626" stroke-width="0.3">0</text>
</svg>
</body></html>
